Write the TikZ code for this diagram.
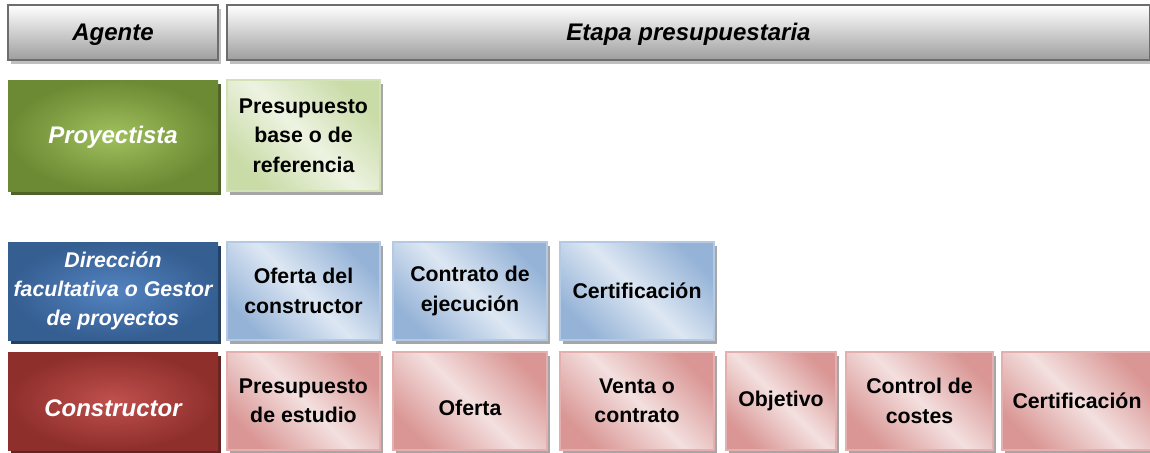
\documentclass[tikz,border=0pt]{standalone}
\usepackage{fontspec}
\setmainfont{Liberation Sans}
\usepackage{xcolor}
\usepackage{tikz}
\usetikzlibrary{positioning, shadows}
\definecolor{hdrline}{HTML}{6D6D6D}
\definecolor{hdrlow}{HTML}{9E9E9E}
\definecolor{hdrshadow}{HTML}{BFBFBF}
\definecolor{greendark}{HTML}{6B8A33}
\definecolor{greenmid}{HTML}{A0C05E}
\definecolor{greenshade}{HTML}{4F6228}
\definecolor{greensoft}{HTML}{EDF3E1}
\definecolor{greentint}{HTML}{C9DBA6}
\definecolor{greenline}{HTML}{D3E2B6}
\definecolor{bluedark}{HTML}{355E91}
\definecolor{bluemid}{HTML}{5383C0}
\definecolor{blueshade}{HTML}{243F60}
\definecolor{bluesoft}{HTML}{DDE7F3}
\definecolor{bluetint}{HTML}{95B3D7}
\definecolor{blueline}{HTML}{B4CAE4}
\definecolor{reddark}{HTML}{8E2F2C}
\definecolor{redmid}{HTML}{C0504D}
\definecolor{redshade}{HTML}{632523}
\definecolor{redsoft}{HTML}{F3E0DF}
\definecolor{redtint}{HTML}{D99694}
\definecolor{redline}{HTML}{E4B0AF}
\definecolor{stageshadow}{HTML}{A6A6A6}
\tikzset{
  hdr/.style={draw=hdrline, line width=2.5pt, top color=white, bottom color=hdrlow,
              minimum height=55pt, inner sep=0pt, outer sep=0pt, align=center,
              text height=20pt,
              font=\fontsize{24}{28}\selectfont\bfseries\itshape,
              general shadow={fill=hdrshadow, shadow xshift=3pt, shadow yshift=-4pt}},
  agent/.style={minimum width=210pt, inner sep=0pt, outer sep=0pt, align=center, text=white,
                font=\fontsize{24}{29}\selectfont\bfseries\itshape},
  stage/.style={line width=1.5pt, inner sep=0pt, outer sep=0pt, align=center,
                font=\fontsize{21.3}{29.5}\selectfont\bfseries,
                general shadow={fill=stageshadow, shadow xshift=3pt, shadow yshift=-4pt}},
  greenagent/.style={agent, inner color=greenmid, outer color=greendark,
                     general shadow={fill=greenshade, shadow xshift=3pt, shadow yshift=-4pt}},
  blueagent/.style={agent, inner color=bluemid, outer color=bluedark,
                    general shadow={fill=blueshade, shadow xshift=3pt, shadow yshift=-4pt}},
  redagent/.style={agent, inner color=redmid, outer color=reddark,
                   general shadow={fill=redshade, shadow xshift=3pt, shadow yshift=-4pt}},
  greenstage/.style={stage, draw=greenline, top color=greentint, bottom color=greentint,
                     middle color=greensoft, shading angle=-45},
  bluestage/.style={stage, draw=blueline, top color=bluetint, bottom color=bluetint,
                    middle color=bluesoft, shading angle=-45},
  redstage/.style={stage, draw=redline, top color=redtint, bottom color=redtint,
                   middle color=redsoft, shading angle=-45},
}

\begin{document}
\begin{tikzpicture}[x=1pt, y=-1pt]
  \useasboundingbox (0,0) rectangle (1150,452);

  % Header
  \node[hdr, minimum width=210pt, anchor=north west] (agente) at (8,5) {Agente};
  \node[hdr, minimum width=923pt, right=9pt of agente] (etapa) {Etapa presupuestaria};

  % Proyectista
  \node[greenagent, minimum height=111pt, below=20pt of agente, text height=21pt] (proy) {Proyectista};
  \node[greenstage, minimum width=153pt, minimum height=111pt, right=9pt of proy] (pbase)
    {Presupuesto\\base o de\\referencia};

  % Direccion facultativa
  \node[blueagent, minimum height=98pt, below=51pt of proy,
        font=\fontsize{21.3}{29}\selectfont\bfseries\itshape] (direc)
    {Dirección\\facultativa o Gestor\\de proyectos};
  \node[bluestage, minimum width=153pt, minimum height=98pt, right=9pt of direc] (doferta)
    {Oferta del\\constructor};
  \node[bluestage, minimum width=154pt, minimum height=98pt, right=13pt of doferta] (dcontrato)
    {Contrato de\\ejecución};
  \node[bluestage, minimum width=154pt, minimum height=98pt, right=13pt of dcontrato] (dcert)
    {Certificación};

  % Constructor
  \node[redagent, minimum height=98pt, below=12pt of direc, text height=32pt] (cons) {Constructor};
  \node[redstage, minimum width=153pt, minimum height=98pt, right=9pt of cons] (cestudio)
    {Presupuesto\\de estudio};
  \node[redstage, minimum width=154pt, minimum height=98pt, right=13pt of cestudio,
        text height=30pt] (coferta)
    {Oferta};
  \node[redstage, minimum width=154pt, minimum height=98pt, right=13pt of coferta] (cventa)
    {Venta o\\contrato};
  \node[redstage, minimum width=110pt, minimum height=98pt, right=12pt of cventa] (cobj)
    {Objetivo};
  \node[redstage, minimum width=147pt, minimum height=98pt, right=10pt of cobj] (ccontrol)
    {Control de\\costes};
  \node[redstage, minimum width=150pt, minimum height=98pt, right=9pt of ccontrol] (ccert)
    {Certificación};
\end{tikzpicture}
\end{document}
